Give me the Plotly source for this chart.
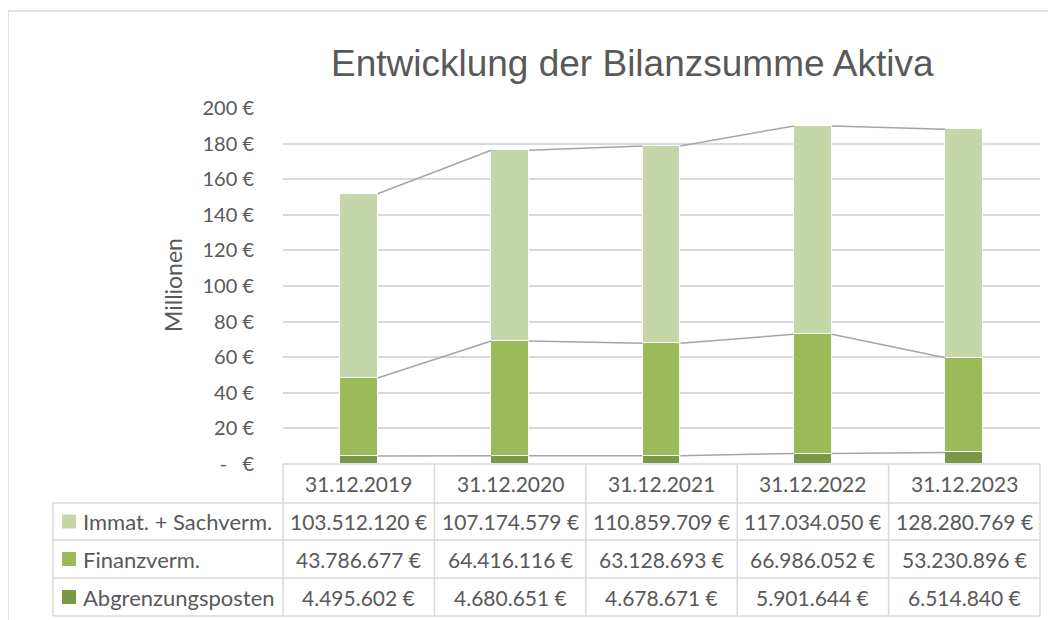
import plotly.graph_objects as go

categories = ["31.12.2019", "31.12.2020", "31.12.2021", "31.12.2022", "31.12.2023"]
series_names = ["Immat. + Sachverm.", "Finanzverm.", "Abgrenzungsposten"]
immat = [103512120, 107174579, 110859709, 117034050, 128280769]
finanz = [43786677, 64416116, 63128693, 66986052, 53230896]
abgrenz = [4495602, 4680651, 4678671, 5901644, 6514840]
tick_values = [0, 20, 40, 60, 80, 100, 120, 140, 160, 180, 200]
tick_labels = ["-   €", "20 €", "40 €", "60 €", "80 €", "100 €", "120 €", "140 €",
               "160 €", "180 €", "200 €"]
colors = ["#C5D6A9", "#9BBB59", "#7A9948"]

FONT = "Lato"
TXT = "#595959"
GRID = "#D9D9D9"
OFF = 8  # page body margin
W, H = 1056 - OFF, 620 - OFF
# plot area in screen pixels
L, R, T, B = 283, 1040, 108, 464
BARW = 0.25


def px(x):
    return (x - L) / (R - L)


def py(y):
    return (B - y) / (B - T)


def fmt(v):
    return "{:,}".format(v).replace(",", ".") + " €"


fig = go.Figure()
xs = list(range(len(categories)))
stack = [(series_names[2], abgrenz, colors[2]),
         (series_names[1], finanz, colors[1]),
         (series_names[0], immat, colors[0])]
for name, vals, col in stack:
    fig.add_trace(go.Bar(
        x=xs, y=[v / 1e6 for v in vals], name=name, width=BARW,
        marker=dict(color=col, line=dict(color="white", width=1)),
        showlegend=False))

cum = [0] * len(categories)
for name, vals, col in stack:
    cum = [c + v / 1e6 for c, v in zip(cum, vals)]
    for i in range(len(categories) - 1):
        fig.add_trace(go.Scatter(
            x=[xs[i] + BARW / 2, xs[i + 1] - BARW / 2], y=[cum[i], cum[i + 1]],
            mode="lines", line=dict(color="#A5A5A5", width=1.5),
            showlegend=False, hoverinfo="skip"))

shapes = []


def hline(x0, x1, y):
    shapes.append(dict(type="line", xref="paper", yref="paper", x0=px(x0), x1=px(x1),
                       y0=py(y), y1=py(y), line=dict(color=GRID, width=1.5)))


def vline(x, y0, y1):
    shapes.append(dict(type="line", xref="paper", yref="paper", x0=px(x), x1=px(x),
                       y0=py(y0), y1=py(y1), line=dict(color=GRID, width=1.5)))


# outer frame
hline(8, 1070, 11)
vline(8, 11, 640)

colw = (R - L) / len(categories)
row_y = [B, 503, 540, 578, 616]
hline(L, R, B)
for yy in row_y[1:]:
    hline(53, R, yy)
vline(53, 503, 616)
for k in range(len(categories) + 1):
    vline(L + k * colw, B, 616)

annotations = []


def text(t, x, y, size, xanchor="center", family=FONT, angle=0):
    annotations.append(dict(text=t, xref="paper", yref="paper", x=px(x), y=py(y),
                            xanchor=xanchor, yanchor="middle", showarrow=False,
                            textangle=angle,
                            font=dict(size=size, color=TXT, family=family)))


for i, c in enumerate(categories):
    text(c, L + (i + 0.5) * colw, (row_y[0] + row_y[1]) / 2, 21)

for r, (name, vals, col) in enumerate(stack[::-1]):
    yc = (row_y[r + 1] + row_y[r + 2]) / 2
    shapes.append(dict(type="rect", xref="paper", yref="paper", x0=px(62), x1=px(76),
                       y0=py(yc - 7), y1=py(yc + 7), fillcolor=col, line=dict(width=0)))
    text(name, 81, yc, 22, xanchor="left")
    for i, v in enumerate(vals):
        text(fmt(v), L + (i + 0.5) * colw, yc, 21)

text("Entwicklung der Bilanzsumme Aktiva", 632, 63, 37, family="Liberation Sans")
text("Millionen", 173, 285, 23, angle=-90)

fig.update_layout(
    width=W, height=H, barmode="stack", bargap=0,
    margin=dict(l=L - OFF, r=W - (R - OFF), t=T - OFF, b=H - (B - OFF)),
    paper_bgcolor="white", plot_bgcolor="white",
    shapes=shapes, annotations=annotations,
    xaxis=dict(range=[-0.5, len(categories) - 0.5], showticklabels=False,
               showgrid=False, zeroline=False, showline=False, fixedrange=True),
    yaxis=dict(range=[0, 200], tickvals=tick_values, ticktext=tick_labels,
               showgrid=True, gridcolor=GRID, gridwidth=1.5, zeroline=False,
               ticklabelstandoff=28,
               tickfont=dict(size=20, color=TXT, family=FONT)),
)

fig.write_html("out.html")
